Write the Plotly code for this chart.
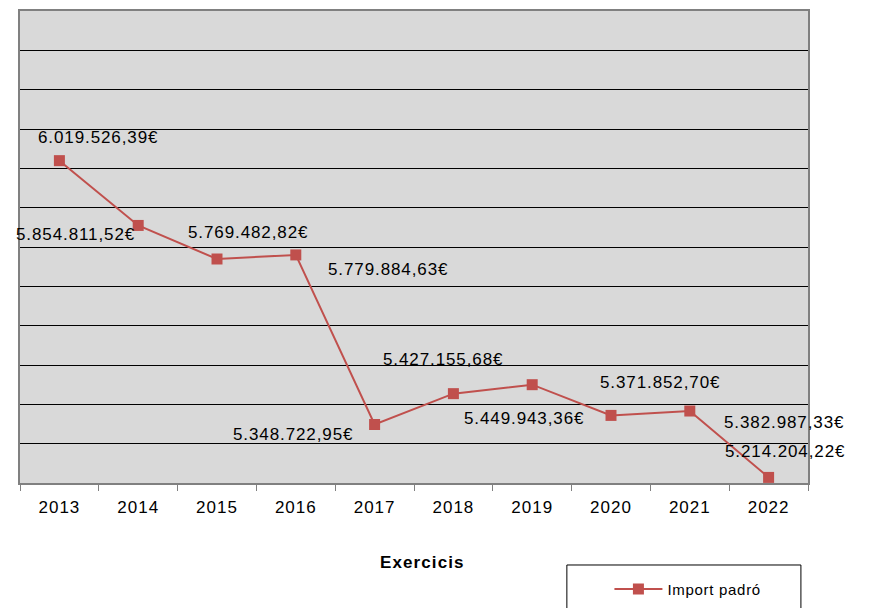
import plotly.graph_objects as go

years = [2013, 2014, 2015, 2016, 2017, 2018, 2019, 2020, 2021, 2022]
import_padro = [6019526.39, 5854811.52, 5769482.82, 5779884.63, 5348722.95,
                5427155.68, 5449943.36, 5371852.70, 5382987.33, 5214204.22]
value_labels = ["6.019.526,39€", "5.854.811,52€", "5.769.482,82€", "5.779.884,63€", "5.348.722,95€",
                "5.427.155,68€", "5.449.943,36€", "5.371.852,70€", "5.382.987,33€", "5.214.204,22€"]
# label offsets (px) relative to each point
label_dx = [39, -63, 31, 92, -82, -10, -8, 49, 94, 16]
label_dy = [-23, 9, -27, 15, 10, -34, 34, -33, 11, -26]

RED = "#C0504D"
FONT = "Liberation Sans, Arial, sans-serif"

def sp(text, s):
    return f'<span style="letter-spacing:{s}px">{text}</span>'

fig = go.Figure()
fig.add_trace(go.Scatter(
    x=years, y=import_padro, mode="lines+markers",
    name=sp("Import padró", 0.7),
    line=dict(color=RED, width=2),
    marker=dict(symbol="square", size=11, color=RED),
))

annotations = []
for yr, v, t, dx, dy in zip(years, import_padro, value_labels, label_dx, label_dy):
    annotations.append(dict(
        x=yr, y=v, xref="x", yref="y", text=sp(t, 0.9), showarrow=False,
        xshift=dx, yshift=-dy, xanchor="center", yanchor="middle",
        font=dict(family=FONT, size=17, color="black"),
    ))
annotations.append(dict(
    x=0.511, y=-0.169, xref="paper", yref="paper", text="<b>" + sp("Exercicis", 1.1) + "</b>",
    showarrow=False, xanchor="center", yanchor="middle",
    font=dict(family=FONT, size=17, color="black"),
))

fig.update_layout(
    width=865, height=600,
    margin=dict(l=12, r=65, t=3, b=125, autoexpand=False),
    paper_bgcolor="white", plot_bgcolor="#D9D9D9",
    font=dict(family=FONT, color="black"),
    showlegend=True,
    legend=dict(x=0.748, y=-0.225, xanchor="left", yanchor="middle",
                bgcolor="rgba(0,0,0,0)", borderwidth=0, itemwidth=48,
                font=dict(family=FONT, size=15, color="black")),
    annotations=annotations,
    shapes=[dict(type="rect", xref="paper", yref="paper",
                 x0=0.694, x1=0.991, y0=-0.1737, y1=-0.32,
                 line=dict(color="black", width=1), fillcolor="rgba(0,0,0,0)")],
)
fig.update_xaxes(
    range=[2012.5, 2022.5], tickmode="array", tickvals=years,
    ticktext=[sp(str(y), 1) for y in years],
    ticks="", ticklabelstandoff=8,
    minor=dict(tick0=2012.5, dtick=1, ticks="outside", ticklen=6, tickcolor="#808080",
               tickwidth=1, showgrid=False),
    showgrid=False, showline=True, linecolor="#808080", linewidth=2, mirror=True,
    zeroline=False,
    tickfont=dict(family=FONT, size=17, color="black"),
)
fig.update_yaxes(
    range=[5200000, 6400000], dtick=100000, tick0=5200000,
    showgrid=True, gridcolor="black", gridwidth=1,
    showticklabels=False, ticks="",
    showline=True, linecolor="#808080", linewidth=2, mirror=True,
    zeroline=False,
)

fig.write_html("out.html")
